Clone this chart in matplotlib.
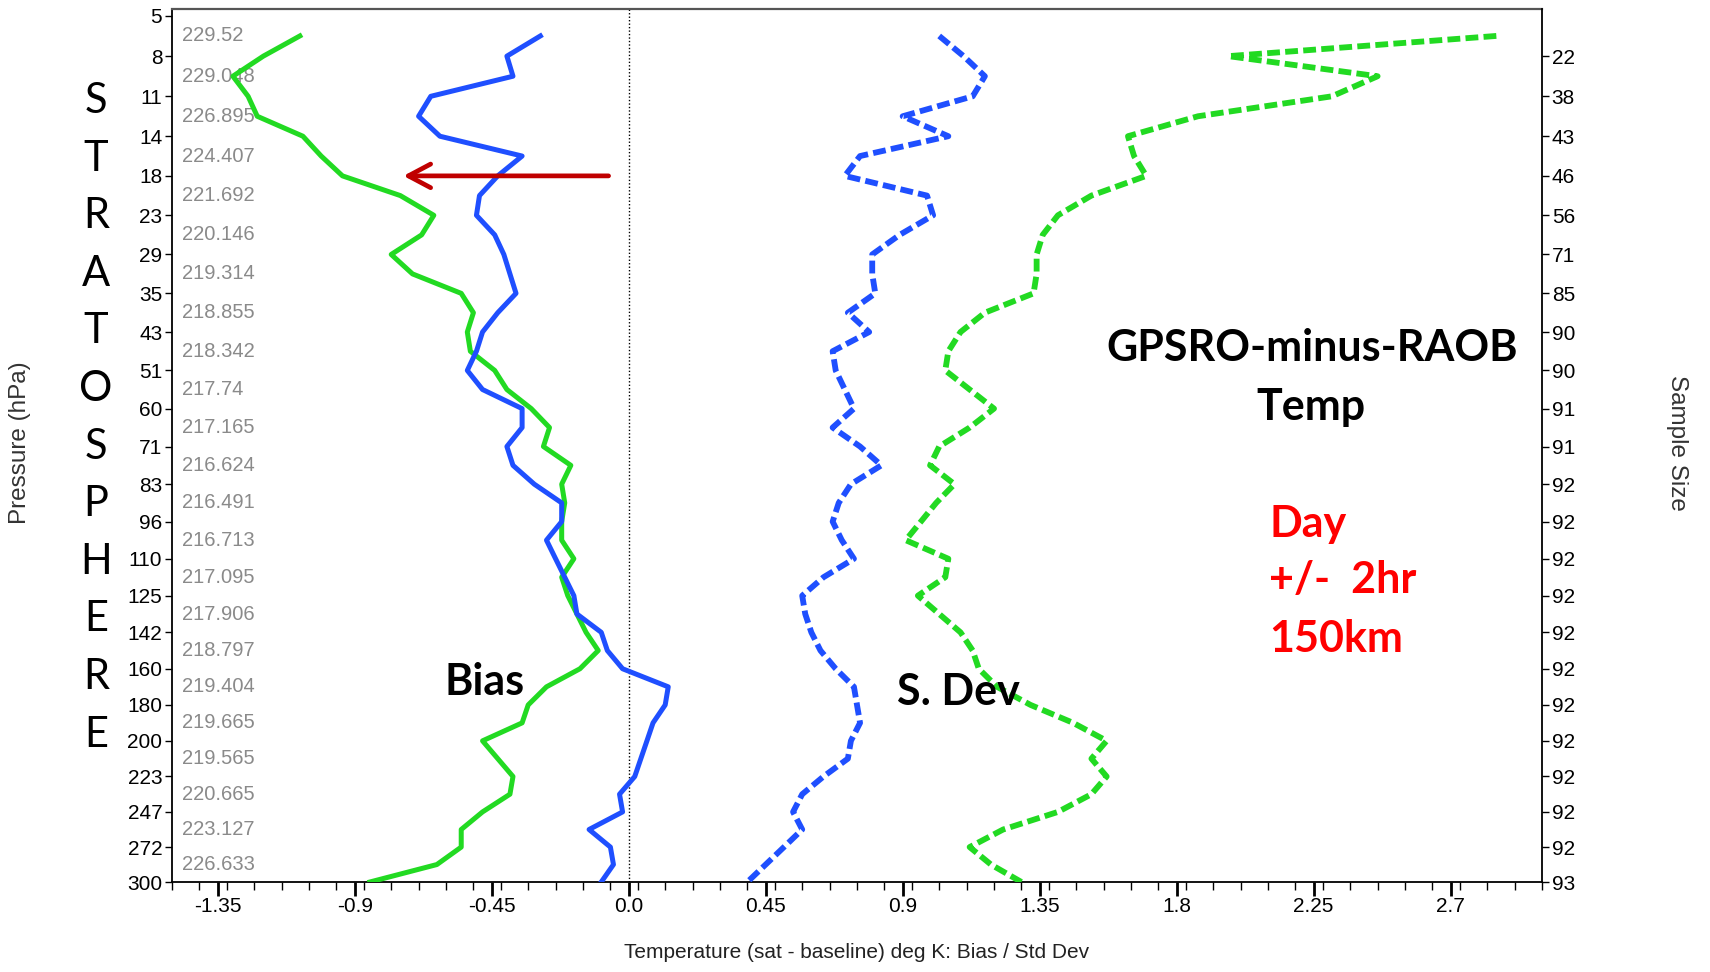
import numpy as np
import matplotlib
matplotlib.use("Agg")
import matplotlib.pyplot as plt
from matplotlib import font_manager
from matplotlib.ticker import FixedLocator, NullLocator

# Niveles de presion del eje izquierdo (hPa)
p_ticks = [5, 8, 11, 14, 18, 23, 29, 35, 43, 51, 60, 71, 83, 96, 110, 125, 142, 160, 180, 200, 223, 247, 272, 300]
# Tamano de muestra (eje derecho), desde 8 hPa
sample_size = [22, 38, 43, 46, 56, 71, 85, 90, 90, 91, 91, 92, 92, 92, 92, 92, 92, 92, 92, 92, 92, 92, 93]
# Temperatura media de cada capa (texto gris)
layer_temp = [229.52, 229.048, 226.895, 224.407, 221.692, 220.146, 219.314, 218.855, 218.342, 217.74, 217.165,
              216.624, 216.491, 216.713, 217.095, 217.906, 218.797, 219.404, 219.665, 219.565, 220.665, 223.127,
              226.633]
# Niveles de los perfiles (hPa)
plev = [6.5, 8, 9.5, 11, 12.5, 14, 16, 18, 20.5, 23, 26, 29, 32, 35, 39, 43, 47, 51, 55.5, 60, 65.5, 71, 77, 83,
        89.5, 96, 103, 110, 117.5, 125, 133.5, 142, 151, 160, 170, 180, 190, 200, 211.5, 223, 235, 247, 259.5,
        272, 286, 300]

bias_green = [-1.08, -1.20, -1.30, -1.25, -1.22, -1.07, -1.01, -0.94, -0.75, -0.64, -0.68, -0.78, -0.71, -0.55,
              -0.51, -0.53, -0.52, -0.44, -0.40, -0.32, -0.26, -0.28, -0.19, -0.22, -0.21, -0.22, -0.22, -0.18,
              -0.22, -0.20, -0.17, -0.14, -0.10, -0.16, -0.27, -0.33, -0.35, -0.48, -0.43, -0.38, -0.39, -0.48,
              -0.55, -0.55, -0.63, -0.85]
bias_blue = [-0.29, -0.40, -0.38, -0.65, -0.69, -0.62, -0.35, -0.43, -0.49, -0.50, -0.44, -0.41, -0.39, -0.37,
             -0.43, -0.48, -0.50, -0.53, -0.48, -0.35, -0.35, -0.40, -0.38, -0.31, -0.22, -0.22, -0.27, -0.24,
             -0.21, -0.18, -0.17, -0.09, -0.07, -0.02, 0.13, 0.12, 0.08, 0.06, 0.04, 0.02, -0.03, -0.02, -0.13,
             -0.06, -0.05, -0.09]
sdev_blue = [1.02, 1.10, 1.17, 1.13, 0.90, 1.05, 0.76, 0.71, 0.98, 1.00, 0.89, 0.80, 0.80, 0.81, 0.72, 0.79, 0.67,
             0.68, 0.71, 0.74, 0.67, 0.76, 0.83, 0.73, 0.69, 0.67, 0.70, 0.74, 0.64, 0.57, 0.58, 0.60, 0.63, 0.68,
             0.74, 0.75, 0.76, 0.73, 0.72, 0.64, 0.57, 0.54, 0.57, 0.51, 0.45, 0.39]
sdev_green = [2.85, 1.97, 2.46, 2.31, 1.87, 1.64, 1.66, 1.70, 1.52, 1.41, 1.36, 1.34, 1.34, 1.33, 1.17, 1.09, 1.05,
              1.04, 1.12, 1.20, 1.12, 1.02, 0.99, 1.07, 1.01, 0.96, 0.91, 1.05, 1.04, 0.95, 1.02, 1.09, 1.13, 1.15,
              1.21, 1.32, 1.46, 1.57, 1.52, 1.57, 1.52, 1.41, 1.23, 1.12, 1.19, 1.29]

x_ticks = [-1.35, -0.9, -0.45, 0.0, 0.45, 0.9, 1.35, 1.8, 2.25, 2.7]

GREEN = "#22DA22"
BLUE = "#1F4FFF"

# Fuentes
names = {f.name for f in font_manager.fontManager.ttflist}
narrow = "Liberation Sans Narrow" if "Liberation Sans Narrow" in names else "Liberation Sans"
gray_size = 17.5 if narrow == "Liberation Sans Narrow" else 14.5
plt.rcParams["font.family"] = ["Liberation Sans", "DejaVu Sans"]

# Escala vertical: los niveles van casi equiespaciados (un poco mas juntos abajo)
u_ticks = np.arange(len(p_ticks), dtype=float)
u_ticks = u_ticks - 0.00308 * u_ticks ** 2
slope_top = (u_ticks[1] - u_ticks[0]) / (p_ticks[1] - p_ticks[0])


def p_to_u(p):
    p = np.asarray(p, dtype=float)
    u = np.interp(p, p_ticks, u_ticks)
    return np.where(p < p_ticks[0], u_ticks[0] + (p - p_ticks[0]) * slope_top, u)


def u_to_p(u):
    u = np.asarray(u, dtype=float)
    p = np.interp(u, u_ticks, p_ticks)
    return np.where(u < u_ticks[0], p_ticks[0] + (u - u_ticks[0]) / slope_top, p)


fig = plt.figure(figsize=(17.1, 9.72), dpi=100)
ax = fig.add_axes([172 / 1710, 90 / 972, 1370 / 1710, 873 / 972])
ax.set_yscale("function", functions=(p_to_u, u_to_p))

ax.axvline(0, color="black", lw=1, ls=(0, (1, 1.5)), zorder=1)

ax.plot(bias_green, plev, color=GREEN, lw=3.6, solid_joinstyle="round", zorder=3)
ax.plot(bias_blue, plev, color=BLUE, lw=3.6, solid_joinstyle="round", zorder=4)
ax.plot(sdev_blue, plev, color=BLUE, lw=4.2, ls=(0, (2.2, 0.9)), zorder=3)
ax.plot(sdev_green, plev, color=GREEN, lw=4.2, ls=(0, (2.2, 0.9)), zorder=3)

ax.set_xlim(-1.5, 3.0)
ax.set_ylim(300, 4.5)

# Eje x
ax.set_xticks(x_ticks)
ax.set_xticklabels([str(v) for v in x_ticks])
ax.xaxis.set_minor_locator(FixedLocator(np.arange(-1.5, 3.0001, 0.09)))
ax.tick_params(axis="x", which="major", direction="out", length=10, width=2, labelsize=15, pad=1)
ax.tick_params(axis="x", which="minor", direction="out", length=6, width=1)
ax.set_xlabel("Temperature (sat - baseline) deg K: Bias / Std Dev", fontsize=15, color="#222222", labelpad=19)

# Eje y izquierdo
ax.set_yticks(p_ticks)
ax.set_yticklabels([str(p) for p in p_ticks])
ax.yaxis.set_minor_locator(NullLocator())
ax.tick_params(axis="y", which="major", direction="out", length=5, width=1, labelsize=15, pad=2)

for s in ["left", "bottom"]:
    ax.spines[s].set_linewidth(1.3)
ax.spines["top"].set_linewidth(1.6)
ax.spines["top"].set_color("#555555")
ax.spines["right"].set_visible(False)

# Eje y derecho: tamano de muestra
ax2 = ax.twinx()
ax2.set_yscale("function", functions=(p_to_u, u_to_p))
ax2.set_ylim(300, 4.5)
ax2.set_yticks(p_ticks[1:])
ax2.set_yticklabels([str(n) for n in sample_size])
ax2.yaxis.set_minor_locator(NullLocator())
ax2.tick_params(axis="y", direction="out", length=5, width=1, labelsize=15, pad=2)
for s in ["top", "bottom", "left"]:
    ax2.spines[s].set_visible(False)
ax2.spines["right"].set_linewidth(1.3)

# Temperatura media de cada capa
for t, p in zip(layer_temp, plev[0::2]):
    ax.text(0.0075, p, str(t), transform=ax.get_yaxis_transform(), ha="left", va="center",
            fontsize=gray_size, color="#8a8a8a", family=[narrow, "DejaVu Sans"], zorder=2)

# Etiquetas de los ejes
fig.text(20 / 1710, 1 - 443 / 972, "Pressure (hPa)", rotation=90, ha="center", va="center",
         fontsize=17.5, color="#333333")
fig.text(1677 / 1710, 1 - 443 / 972, "Sample Size", rotation=270, ha="center", va="center",
         fontsize=17.5, color="#333333")

# Flecha
ax.annotate("", xy=(-0.74, 18), xytext=(-0.066, 18),
            arrowprops=dict(arrowstyle="->,head_length=1.6,head_width=0.85", color="#C00000", lw=3.4,
                            shrinkA=0, shrinkB=0, mutation_scale=10), zorder=5)

# Textos
big = dict(family=["Lato", "DejaVu Sans"], fontweight="bold", fontsize=31)
ax.text(0.2285, 0.214, "Bias", transform=ax.transAxes, ha="center", va="baseline", **big)
ax.text(0.574, 0.203, "S. Dev", transform=ax.transAxes, ha="center", va="baseline", **big)
ax.text(0.832, 0.597, "GPSRO-minus-RAOB", transform=ax.transAxes, ha="center", va="baseline", **big)
ax.text(0.831, 0.529, "Temp", transform=ax.transAxes, ha="center", va="baseline", **big)
for txt, yb in zip(["Day", "+/-  2hr", "150km"], [0.395, 0.331, 0.263]):
    ax.text(0.801, yb, txt, transform=ax.transAxes, ha="left", va="baseline", color="#FF0000", **big)

for k, letter in enumerate("STRATOSPHERE"):
    fig.text(96 / 1710, 1 - (113 + 57.6 * k) / 972, letter, ha="center", va="baseline",
             family=["Lato", "DejaVu Sans"], fontsize=30)

fig.savefig("out.png", dpi=100, facecolor="white")
